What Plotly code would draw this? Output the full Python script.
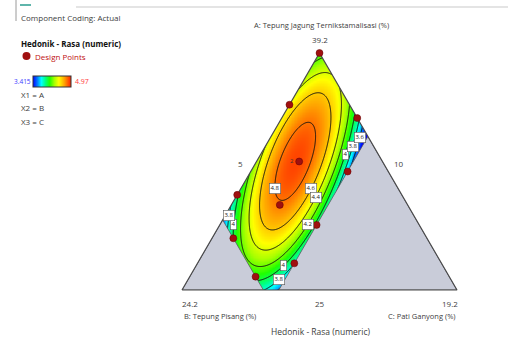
import numpy as np
import plotly.graph_objects as go

# ---- mixture space (actual units, %) ----
A_LOW, B_LOW, C_LOW = 25.0, 10.0, 5.0
TOTAL = 54.2
B_HIGH, C_HIGH = 20.0, 10.0          # upper constraints on B and C
SPAN = TOTAL - A_LOW - B_LOW - C_LOW  # 14.2

# ---- design points (A, B, C in %) ----
design_A = [39.2, 36.1, 35.3, 32.7, 32.1, 30.1, 30.7, 28.9, 28.1, 26.6, 25.8]
design_B = [10.0, 13.1, 10.0, 14.3, 12.1, 16.6, 18.5, 15.3, 20.0, 17.6, 20.0]
design_C = [5.0, 5.0, 8.9, 7.2, 10.0, 7.5, 5.0, 10.0, 6.1, 10.0, 8.4]
replicates = [1, 1, 1, 2, 1, 1, 1, 1, 1, 1, 1]

# ---- fitted Scheffe quadratic (L-pseudo components) ----
coef_linear = [4.102, 1.902, -12.662]        # A, B, C
coef_AB, coef_AC, coef_BC = 4.881, 22.023, 29.829

RESP_MIN, RESP_MAX = 3.415, 4.97
contour_levels = [3.6, 3.8, 4.0, 4.2, 4.4, 4.6, 4.8]

H = np.sqrt(3) / 2


def pseudo(A, B, C):
    return ((np.asarray(A) - A_LOW) / SPAN,
            (np.asarray(B) - B_LOW) / SPAN,
            (np.asarray(C) - C_LOW) / SPAN)


def plane(a, b, c):
    a, b, c = np.asarray(a), np.asarray(b), np.asarray(c)
    return c + a / 2, a * H


def from_plane(X, Y):
    a = Y / H
    c = X - a / 2
    return a, 1 - a - c, c


def response(X, Y):
    a, b, c = from_plane(X, Y)
    return (coef_linear[0] * a + coef_linear[1] * b + coef_linear[2] * c
            + coef_AB * a * b + coef_AC * a * c + coef_BC * b * c)


# grid over the simplex plane
xs = np.linspace(-0.01, 1.01, 460)
ys = np.linspace(-0.01, H + 0.01, 400)
GX, GY = np.meshgrid(xs, ys)
Z = response(GX, GY)

# rainbow palette: blue (low) -> cyan -> green -> yellow -> orange -> red (high)
colorscale = [[0.0, "#0000ff"], [0.119, "#0080ff"], [0.22, "#00ffff"],
              [0.33, "#00ff80"], [0.44, "#20ff00"], [0.565, "#a8ff00"],
              [0.68, "#ffff00"], [0.83, "#ffa000"], [1.0, "#ff2000"]]

fig = go.Figure()

fig.add_trace(go.Heatmap(
    x=xs, y=ys, z=Z, zmin=RESP_MIN, zmax=RESP_MAX, zsmooth="best",
    colorscale=colorscale, hoverinfo="skip",
    colorbar=dict(orientation="h", len=38, lenmode="pixels", thickness=11,
                  thicknessmode="pixels", x=52 / 508, xanchor="center",
                  y=1 - 81.5 / 339, yanchor="middle", showticklabels=False,
                  ticks="", outlinewidth=1, outlinecolor="#333", xpad=0, ypad=0),
))

fig.add_trace(go.Contour(
    x=xs, y=ys, z=Z, showscale=False, hoverinfo="skip",
    contours=dict(start=contour_levels[0], end=contour_levels[-1] + 0.01,
                  size=0.2, coloring="none"),
    line=dict(color="#111111", width=1),
))

# infeasible corners (B > B_HIGH, C > C_HIGH)
bh = (B_HIGH - B_LOW) / SPAN
ch = (C_HIGH - C_LOW) / SPAN
left_poly = plane([1 - bh, 0, 0, 1 - bh], [bh, bh, 1, bh], [0, 1 - bh, 0, 0])
right_poly = plane([1 - ch, 0, 0, 1 - ch], [0, 1 - ch, 0, 0], [ch, ch, 1, ch])
for px, py in (left_poly, right_poly):
    fig.add_trace(go.Scatter(x=px, y=py, mode="lines", fill="toself",
                             fillcolor="#c9ccd9", line=dict(color="#5a5a5a", width=0.8),
                             hoverinfo="skip", showlegend=False))

# white frame around the triangle (outer box with the simplex cut out)
m = 0.06
frame_x = [-m, 1 + m, 1 + m, -m, -m, 0, 0.5, 1, 0, -m]
frame_y = [-m, -m, H + m, H + m, -m, 0, H, 0, 0, -m]
fig.add_trace(go.Scatter(x=frame_x, y=frame_y, mode="lines", fill="toself",
                         fillcolor="white", line=dict(width=0), hoverinfo="skip",
                         showlegend=False))

# simplex outline
fig.add_trace(go.Scatter(x=[0, 0.5, 1, 0], y=[0, H, 0, 0], mode="lines",
                         line=dict(color="#4a4a4a", width=1.2), hoverinfo="skip",
                         showlegend=False))

# design points
dX, dY = plane(*pseudo(design_A, design_B, design_C))
fig.add_trace(go.Scatter(x=dX, y=dY, mode="markers",
                         marker=dict(size=7, color="#a01010",
                                     line=dict(color="#600000", width=0.5)),
                         hoverinfo="skip", showlegend=False))


def snap(x, y, level):
    e = 1e-5
    for _ in range(10):
        f = response(x, y) - level
        gx = (response(x + e, y) - response(x - e, y)) / (2 * e)
        gy = (response(x, y + e) - response(x, y - e)) / (2 * e)
        g2 = gx * gx + gy * gy
        x -= f * gx / g2
        y -= f * gy / g2
    return x, y


def fmt(v):
    return ("%.1f" % v).rstrip("0").rstrip(".")


annotations = []
label_spots = [(4.8, 0.353, 0.376), (4.6, 0.462, 0.375), (4.4, 0.505, 0.330),
               (4.2, 0.463, 0.2375), (4.0, 0.195, 0.240), (3.8, 0.168, 0.274),
               (4.0, 0.368, 0.089), (3.8, 0.353, 0.039), (4.0, 0.596, 0.493),
               (3.8, 0.619, 0.526), (3.6, 0.645, 0.557)]
for lev, x0, y0 in label_spots:
    lx, ly = snap(x0, y0, lev)
    annotations.append(dict(x=lx, y=ly, xref="x", yref="y", text=fmt(lev),
                            showarrow=False, font=dict(family="Open Sans", size=6, color="#222"),
                            bgcolor="white", bordercolor="#555", borderwidth=0.6,
                            borderpad=0.8))

for x, y, r in zip(dX, dY, replicates):
    if r > 1:
        annotations.append(dict(x=x, y=y, xref="x", yref="y", text=str(r),
                                showarrow=False, xshift=-7, font=dict(size=6, color="#333")))

FONT = "Open Sans"
tick_font = dict(family=FONT, size=8, color="#404040")

# vertex and edge values
A_HIGH = TOTAL - B_LOW - C_LOW
B_TOP = TOTAL - A_LOW - C_LOW
C_TOP = TOTAL - A_LOW - B_LOW
annotations += [
    dict(x=0.5, y=H, text=f"{A_HIGH:.1f}", yshift=14),
    dict(x=0, y=0, text=f"{B_TOP:.1f}", yshift=-13, xshift=8),
    dict(x=1, y=0, text=f"{C_TOP:.1f}", yshift=-13, xshift=-7),
    dict(x=0.5, y=0, text=f"{A_LOW:g}", yshift=-13),
    dict(x=0.25, y=H / 2, text=f"{C_LOW:g}", xshift=-10, yshift=8),
    dict(x=0.75, y=H / 2, text=f"{B_LOW:g}", xshift=11, yshift=8),
]
for an in annotations[-6:]:
    an.update(xref="x", yref="y", showarrow=False, font=tick_font)


def paper(text, px, py, xanchor="left", size=8, color="#404040", bold=False):
    return dict(x=px / 508, y=1 - py / 339, xref="paper", yref="paper",
                text=f"<b>{text}</b>" if bold else text, showarrow=False,
                xanchor=xanchor, yanchor="middle",
                font=dict(family=FONT, size=size, color=color))


annotations += [
    paper("Component Coding: Actual", 19, 17),
    paper("Hedonik - Rasa (numeric)", 19, 43, color="#111", bold=True),
    paper("Design Points", 33, 56, color="#c01010"),
    paper(f"{RESP_MIN}", 33, 81, xanchor="right", color="#3a3aff", size=6.5),
    paper(f"{RESP_MAX}", 73, 81, color="#ff3a3a", size=7),
    paper("X1 = A", 19, 94),
    paper("X2 = B", 19, 107),
    paper("X3 = C", 19, 121),
    paper("A: Tepung Jagung Ternikstamalisasi (%)", 321, 25, xanchor="center", size=7.5),
    paper("B: Tepung Pisang (%)", 182, 316, size=7.5),
    paper("C: Pati Ganyong (%)", 458, 316, xanchor="right", size=7.5),
    paper("Hedonik - Rasa (numeric)", 321, 331, xanchor="center", size=8.5),
]

shapes = [
    dict(type="circle", xref="paper", yref="paper", x0=22.5 / 508, x1=30.5 / 508,
         y0=1 - 60 / 339, y1=1 - 52 / 339, fillcolor="#a01010", line=dict(width=0)),
    dict(type="line", xref="paper", yref="paper", x0=16 / 508, x1=16 / 508,
         y0=1, y1=1 - 21 / 339, line=dict(color="#9a9a9a", width=1)),
    dict(type="line", xref="paper", yref="paper", x0=20 / 508, x1=31 / 508,
         y0=1 - 5 / 339, y1=1 - 5 / 339, line=dict(color="#2a9d8f", width=1.5)),
    dict(type="rect", xref="paper", yref="paper", x0=76 / 508, x1=1,
         y0=1 - 8 / 339, y1=1 - 6 / 339, fillcolor="#e4e4e4", line=dict(width=0)),
]

SY = 237 / H
fig.update_layout(
    width=508, height=339, margin=dict(l=0, r=0, t=0, b=0),
    paper_bgcolor="white", plot_bgcolor="white", showlegend=False,
    xaxis=dict(range=[-182 / 275, 326 / 275], visible=False, fixedrange=True),
    yaxis=dict(range=[-49 / SY, 290 / SY], visible=False, fixedrange=True),
    annotations=annotations, shapes=shapes,
)

fig.write_html("out.html")
